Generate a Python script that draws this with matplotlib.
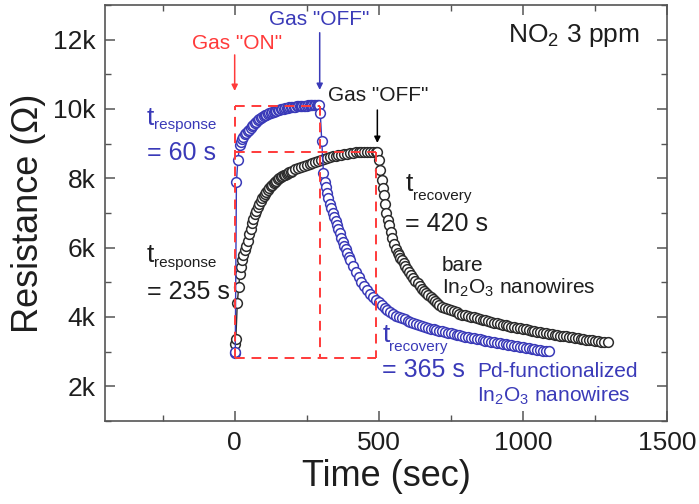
import matplotlib
matplotlib.use("Agg")
import matplotlib.pyplot as plt
from matplotlib.ticker import MultipleLocator, FuncFormatter

plt.rcParams['font.family'] = ['Liberation Sans', 'DejaVu Sans']
plt.rcParams['mathtext.fontset'] = 'custom'
plt.rcParams['mathtext.rm'] = 'Liberation Sans'
plt.rcParams['mathtext.it'] = 'Liberation Sans:italic'

# ---- response / recovery data (NO2, 3 ppm) ----
# Pd-functionalized In2O3 nanowires
pd_time = [0, 2, 6, 11, 17, 21,
           25, 30, 35, 40, 45, 50, 55, 60, 65, 70, 75, 80, 85, 90, 95, 100,
           105, 110, 115, 120, 125, 130, 135, 140, 145, 150, 155, 160, 165, 170,
           175, 180, 185, 190, 195, 200, 205, 210, 215, 220, 225, 230, 235, 240,
           245, 250, 255, 260, 265, 270, 275, 280, 285, 290, 294,
           297, 302, 308, 313, 317, 321, 325, 330, 335, 340, 345, 350, 355, 360,
           365, 370, 375, 380, 385, 390, 395, 400, 410, 420, 430, 440, 450, 460,
           470, 480, 490, 500, 510, 520, 530, 540, 550, 560, 570, 580, 590, 600,
           610, 620, 630, 640, 650, 660, 670, 680, 690, 700, 710, 720, 730, 740,
           750, 760, 770, 780, 790, 800, 810, 820, 830, 840, 850, 860, 870, 880,
           890, 900, 910, 920, 930, 940, 950, 960, 970, 980, 990, 1000, 1010,
           1020, 1030, 1040, 1050, 1060, 1070, 1080, 1090]
pd_res = [2950, 2980, 7880, 8520, 8950, 9060,
          9130, 9200, 9270, 9320, 9360, 9400, 9450, 9500, 9550, 9595, 9635, 9675,
          9705, 9740, 9765, 9790, 9815, 9835, 9855, 9875, 9893, 9910, 9925, 9940,
          9953, 9965, 9978, 9990, 10000, 10010, 10020, 10030, 10038, 10045,
          10053, 10060, 10065, 10070, 10075, 10080, 10085, 10090, 10093, 10095,
          10098, 10100, 10103, 10105, 10107, 10108, 10109, 10110, 10110, 10110,
          10110,
          9880, 9070, 8150, 7900, 7760, 7580, 7420, 7260, 7130, 7010, 6890, 6770,
          6650, 6530, 6410, 6290, 6170, 6060, 5950, 5840, 5730, 5640, 5460, 5300,
          5150, 5010, 4890, 4780, 4670, 4580, 4500, 4420, 4340, 4270, 4200, 4140,
          4080, 4040, 4000, 3965, 3930, 3895, 3860, 3830, 3800, 3770, 3740, 3715,
          3690, 3665, 3640, 3625, 3610, 3590, 3570, 3550, 3530, 3510, 3490, 3470,
          3450, 3435, 3420, 3405, 3390, 3375, 3360, 3340, 3320, 3305, 3290, 3275,
          3260, 3245, 3230, 3215, 3200, 3185, 3170, 3155, 3140, 3125, 3110, 3095,
          3080, 3065, 3050, 3040, 3030, 3020, 3010]

# bare In2O3 nanowires
bare_time = [0, 4, 9, 14, 18, 22, 26, 30, 35, 40, 45, 50, 55, 60, 65, 70, 75, 80,
             85, 90, 95, 100, 105, 110, 115, 120, 125, 130, 135, 140, 145, 150,
             155, 160, 165, 170, 175, 180, 185, 190, 195, 200, 210, 220, 230, 240,
             250, 260, 270, 280, 290, 300, 310, 320, 330, 340, 350, 360, 370, 380,
             390, 400, 410, 420, 430, 440, 450, 460, 470, 480, 490, 495,
             500, 505, 510, 514, 518, 522, 526, 531, 536, 541, 547, 553, 560, 565,
             570, 575, 580, 586, 592, 598, 605, 612, 620, 627, 635, 643, 651, 658,
             665, 672, 680, 687, 695, 702, 710, 720, 730, 740, 750, 760, 770, 780,
             790, 800, 810, 820, 830, 840, 850, 860, 870, 880, 890, 900, 910, 920,
             930, 940, 950, 960, 970, 980, 990, 1000, 1010, 1020, 1030, 1040, 1050,
             1060, 1070, 1080, 1090, 1100, 1110, 1120, 1130, 1140, 1150, 1160,
             1170, 1180, 1190, 1200, 1210, 1220, 1230, 1240, 1250, 1260, 1270,
             1280, 1295]
bare_res = [3220, 3360, 4400, 4870, 5240, 5440, 5630, 5780, 5920, 6060, 6200, 6380,
            6540, 6700, 6840, 6960, 7070, 7170, 7270, 7350, 7430, 7500, 7560, 7615,
            7670, 7720, 7770, 7815, 7860, 7895, 7930, 7970, 8000, 8030, 8060, 8085,
            8110, 8130, 8155, 8175, 8195, 8215, 8260, 8295, 8330, 8360, 8390, 8420,
            8450, 8475, 8500, 8530, 8555, 8585, 8610, 8630, 8650, 8670, 8685, 8700,
            8710, 8725, 8735, 8745, 8750, 8755, 8760, 8765, 8768, 8770, 8770, 8760,
            8530, 8250, 7960, 7720, 7510, 7250, 7000, 6800, 6640, 6450, 6270, 6110,
            5960, 5860, 5780, 5700, 5630, 5545, 5460, 5380, 5300, 5220, 5130, 5050,
            4970, 4895, 4820, 4760, 4700, 4635, 4570, 4510, 4450, 4395, 4340, 4300,
            4265, 4230, 4195, 4160, 4130, 4100, 4070, 4050, 4030, 4010, 3990, 3965,
            3940, 3920, 3900, 3880, 3860, 3840, 3820, 3800, 3780, 3760, 3740, 3725,
            3710, 3690, 3670, 3655, 3640, 3625, 3610, 3590, 3570, 3555, 3540, 3525,
            3510, 3500, 3490, 3475, 3460, 3450, 3440, 3425, 3410, 3400, 3390, 3375,
            3360, 3350, 3340, 3325, 3310, 3300, 3290, 3280, 3270]

# gas switching times and levels used for the guide box
gas_on = 0
pd_off = 295
bare_off = 490
baseline_level = 2830
pd_level = 10100
bare_level = 8750

BLUE = '#3a3ab8'
BLACK = '#2c2c2c'
RED = '#ff3a3a'
TXT = '#1e1e1e'

fig = plt.figure(figsize=(6.99, 5.04), dpi=100)
ax = fig.add_axes([0.1502, 0.1647, 0.804, 0.8254])

ax.plot(bare_time, bare_res, '-o', color=BLACK, lw=1.0, ms=7, mew=1.1,
        mfc='white', mec=BLACK, zorder=2)
ax.plot(pd_time, pd_res, '-o', color=BLUE, lw=1.0, ms=7, mew=1.1,
        mfc='white', mec=BLUE, zorder=3)

dash = dict(color=RED, lw=1.4, ls=(0, (5, 3.5)), zorder=5)
ax.plot([gas_on, gas_on], [baseline_level, pd_level], **dash)
ax.plot([gas_on, pd_off], [pd_level, pd_level], **dash)
ax.plot([pd_off, pd_off], [pd_level, baseline_level], **dash)
ax.plot([gas_on, bare_off], [bare_level, bare_level], **dash)
ax.plot([bare_off, bare_off], [bare_level, baseline_level], **dash)
ax.plot([gas_on, bare_off], [baseline_level, baseline_level], **dash)

ax.set_xlim(-450, 1500)
ax.set_ylim(1000, 13000)
ax.xaxis.set_major_locator(MultipleLocator(500))
ax.xaxis.set_minor_locator(MultipleLocator(250))
ax.yaxis.set_major_locator(MultipleLocator(2000))
ax.yaxis.set_minor_locator(MultipleLocator(1000))
ax.yaxis.set_major_formatter(FuncFormatter(lambda v, p: f"{int(v/1000)}k"))
ax.tick_params(which='both', direction='in', top=True, right=True,
               colors='#555555', labelcolor=TXT, labelsize=19)
ax.tick_params(which='major', length=7, width=1.1, pad=7)
ax.tick_params(which='minor', length=4, width=1.0)
for s in ax.spines.values():
    s.set_color('#555555')
    s.set_linewidth(1.2)

ax.set_xlabel('Time (sec)', fontsize=26, color=TXT, labelpad=3)
ax.set_ylabel('Resistance (\u03a9)', fontsize=26, color=TXT, labelpad=5)

# gas switching arrows
arr = dict(arrowstyle='-|>', lw=1.1, mutation_scale=9, shrinkA=0, shrinkB=0)
ax.annotate('', xy=(gas_on, 10520), xytext=(gas_on, 11560),
            arrowprops=dict(color=RED, **arr))
ax.annotate('', xy=(pd_off, 10550), xytext=(pd_off, 12200),
            arrowprops=dict(color=BLUE, **arr))
ax.annotate('', xy=(bare_off + 5, 9020), xytext=(bare_off + 5, 9970),
            arrowprops=dict(color='black', **arr))

ax.text(8, 11900, 'Gas "ON"', color=RED, fontsize=15, ha='center', va='center')
ax.text(294, 12580, 'Gas "OFF"', color=BLUE, fontsize=15, ha='center', va='center')
ax.text(498, 10380, 'Gas "OFF"', color=TXT, fontsize=15, ha='center', va='center')
ax.text(950, 12120, 'NO$\\mathregular{_2}$ 3 ppm', color=TXT, fontsize=19,
        ha='left', va='center')


def t_label(x_t, y_t, x_sub, y_sub, sub, y_eq, eq, color):
    ax.text(x_t, y_t, 't', color=color, fontsize=19, ha='left', va='baseline')
    ax.text(x_sub, y_sub, sub, color=color, fontsize=11, ha='left', va='baseline')
    ax.text(x_t, y_eq, eq, color=color, fontsize=18, ha='left', va='baseline')


t_label(-304, 9540, -281, 9420, 'response', 8520, '= 60 s', BLUE)
t_label(-304, 5600, -281, 5440, 'response', 4520, '= 235 s', TXT)
t_label(592, 7620, 620, 7370, 'recovery', 6490, '= 420 s', TXT)
t_label(512, 3280, 537, 3020, 'recovery', 2260, '= 365 s', BLUE)

ax.text(720, 5340, 'bare', color=TXT, fontsize=15, ha='left', va='baseline')
ax.text(720, 4670, 'In$\\mathregular{_2}$O$\\mathregular{_3}$ nanowires',
        color=TXT, fontsize=15, ha='left', va='baseline')
ax.text(840, 2260, 'Pd-functionalized', color=BLUE, fontsize=15,
        ha='left', va='baseline')
ax.text(840, 1570, 'In$\\mathregular{_2}$O$\\mathregular{_3}$ nanowires',
        color=BLUE, fontsize=15, ha='left', va='baseline')

fig.savefig('out.png', dpi=100)
